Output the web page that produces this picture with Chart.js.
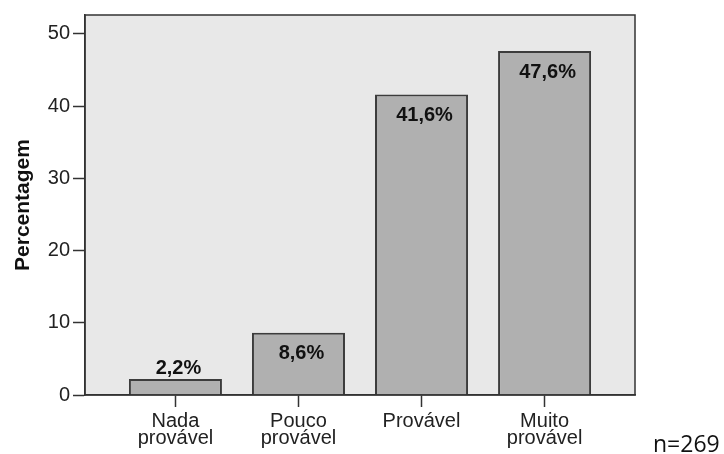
<!DOCTYPE html>
<html>
<head>
<meta charset="utf-8">
<script src="https://cdn.jsdelivr.net/npm/chart.js@4/dist/chart.umd.min.js"></script>
<style>
  body { margin: 0; background: #fff; }
</style>
</head>
<body>
<canvas id="chart" width="724" height="454"></canvas>
<script>

// Data

const categories = [["Nada", "provável"], ["Pouco", "provável"], ["Provável"], ["Muito", "provável"]];
const percentages = [2.2, 8.6, 41.6, 47.6];
const yTicks = [0, 10, 20, 30, 40, 50];
const sampleNote = "n=269";

const positions = categories.map((c, i) => i);

// Plugins

const framePlugin = {
    id: "frame",
    beforeDraw(chart) {
        const a = chart.chartArea;
        const ctx = chart.ctx;
        ctx.save();
        ctx.fillStyle = "#e8e8e8";
        ctx.fillRect(a.left, a.top, a.right - a.left, a.bottom - a.top);
        ctx.restore();
    },
    afterDraw(chart) {
        const a = chart.chartArea;
        const ctx = chart.ctx;
        ctx.save();
        ctx.strokeStyle = "#333";
        ctx.lineWidth = 1.5;
        ctx.strokeRect(a.left, a.top, a.right - a.left, a.bottom - a.top);

        // sample size note
        ctx.fillStyle = "#111";
        ctx.font = "23px 'Open Sans'";
        ctx.textAlign = "left";
        ctx.textBaseline = "alphabetic";
        ctx.fillText(sampleNote, 653, 452);
        ctx.restore();
    }
};

const valueLabels = {
    id: "valueLabels",
    afterDatasetsDraw(chart) {
        const ctx = chart.ctx;
        const meta = chart.getDatasetMeta(0);
        ctx.save();
        ctx.font = "bold 20px 'Liberation Sans', Arial";
        ctx.fillStyle = "#111";
        ctx.textAlign = "center";
        ctx.textBaseline = "middle";
        meta.data.forEach((bar, i) => {
            const txt = percentages[i].toFixed(1).replace(".", ",") + "%";
            const h = bar.base - bar.y;
            const y = h < 40 ? bar.y - 11 : bar.y + 21;
            ctx.fillText(txt, bar.x + 3, y);
        });
        ctx.restore();
    }
};

// Chart

const ctx = document.querySelector("#chart").getContext("2d");

new Chart(ctx, {
    type: "bar",
    data: {
        datasets: [
            {
                data: positions.map((x, i) => ({ x: x, y: percentages[i] })),
                backgroundColor: "#b0b0b0",
                borderColor: "#3c3c3c",
                borderWidth: 2,
                borderSkipped: "bottom",
                categoryPercentage: 1,
                barPercentage: 0.756
            }
        ]
    },
    options: {
        responsive: false,
        animation: false,
        layout: { padding: { top: 14, right: 89, left: 11, bottom: 0 } },
        plugins: {
            legend: { display: false },
            tooltip: { enabled: false }
        },
        scales: {
            x: {
                type: "linear",
                offset: false,
                min: -0.735,
                max: 3.735,
                afterBuildTicks: (scale) => {
                    scale.ticks = positions.map(v => ({ value: v }));
                },
                afterFit: (scale) => { scale.height = 59; },
                grid: {
                    offset: false,
                    drawOnChartArea: false,
                    drawTicks: true,
                    tickLength: 12,
                    tickColor: "#333",
                    tickWidth: 1.5
                },
                border: { display: true, color: "#333", width: 1.5 },
                ticks: {
                    autoSkip: false,
                    maxRotation: 0,
                    padding: 6,
                    color: "#222",
                    font: { family: "'Liberation Sans', Arial", size: 20, lineHeight: 0.85 },
                    callback: (v) => categories[v]
                }
            },
            y: {
                min: 0,
                max: 52.6,
                afterBuildTicks: (scale) => {
                    scale.ticks = yTicks.map(v => ({ value: v }));
                },
                afterFit: (scale) => { scale.width = 74; },
                grid: {
                    drawOnChartArea: false,
                    drawTicks: true,
                    tickLength: 12,
                    tickColor: "#333",
                    tickWidth: 1.5
                },
                border: { display: true, color: "#333", width: 1.5 },
                ticks: {
                    padding: 3,
                    color: "#222",
                    font: { family: "'Liberation Sans', Arial", size: 20 }
                },
                title: {
                    display: true,
                    text: "Percentagem",
                    color: "#111",
                    padding: 0,
                    font: { family: "'Liberation Sans', Arial", size: 21, weight: "bold" }
                }
            }
        }
    },
    plugins: [framePlugin, valueLabels]
});

</script>
</body>
</html>
